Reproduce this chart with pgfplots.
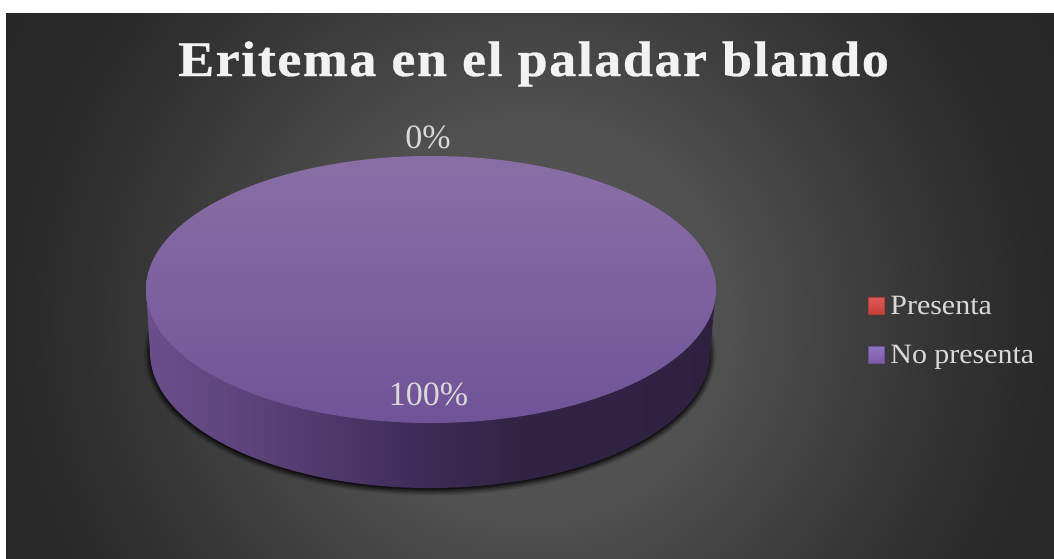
\documentclass[border=0pt]{standalone}
\usepackage{fontspec}
\usepackage{pgfplots}
\usepackage{pgfplotstable}
\pgfplotsset{compat=1.18}
\setmainfont{Liberation Serif}
\newfontfamily\titlefont[LetterSpace=3.1,FakeStretch=1.08,BoldFeatures={FakeBold=0.6}]{Liberation Serif}
\newfontfamily\legendfont[FakeStretch=1.07]{Liberation Serif}

\definecolor{labeltext}{HTML}{D9D9D9}
\definecolor{titletext}{HTML}{F2F2F2}

% Slide background: soft spot of light falling off towards the corners
\definecolor{bgA}{HTML}{565656}
\definecolor{bgB}{HTML}{505050}
\definecolor{bgC}{HTML}{424242}
\definecolor{bgD}{HTML}{353535}
\definecolor{bgE}{HTML}{2A2A2A}
\definecolor{bgF}{HTML}{242424}
\pgfdeclareradialshading{slidebg}{\pgfpointorigin}{
  color(0bp)=(bgA);
  color(7.14bp)=(bgB);
  color(10.7bp)=(bgC);
  color(14.3bp)=(bgD);
  color(17.9bp)=(bgE);
  color(25bp)=(bgF);
  color(50bp)=(bgF)}

% Rim of the disc, lit from the left
\definecolor{rimA}{HTML}{6B4F8D}
\definecolor{rimB}{HTML}{5C4379}
\definecolor{rimC}{HTML}{4B3566}
\definecolor{rimD}{HTML}{3C2A54}
\definecolor{rimE}{HTML}{322344}
\definecolor{rimF}{HTML}{2E2140}
\pgfdeclarehorizontalshading{discrim}{100bp}{
  color(0bp)=(rimA); color(25bp)=(rimA);
  color(34bp)=(rimB); color(43bp)=(rimC); color(50bp)=(rimD);
  color(58bp)=(rimE); color(75bp)=(rimF); color(100bp)=(rimF)}

% Top face of the disc
\definecolor{faceT}{HTML}{8A6FA6}
\definecolor{faceM}{HTML}{7D5DA0}
\definecolor{faceB}{HTML}{705398}

% Legend swatches
\definecolor{redEdge}{HTML}{B03C3A}
\definecolor{redT}{HTML}{E05A55}
\definecolor{redB}{HTML}{C63E3A}
\definecolor{purEdge}{HTML}{685096}
\definecolor{purT}{HTML}{9274C0}
\definecolor{purB}{HTML}{7A5BA8}

% Share of each answer, with the spot where its label stands
\pgfplotstableread{
lx ly share
428 137.5 0
428.5 394.5 100
}\sharestable

\begin{document}
\begin{tikzpicture}
\begin{axis}[
  scale only axis, width=1054pt, height=558pt,
  xmin=0, xmax=1054, ymin=0, ymax=558, y dir=reverse,
  hide axis, clip=false,
  legend style={at={(868/1054,1-294/558)}, anchor=north west, draw=none, fill=none,
    inner sep=0pt, outer sep=0pt, row sep=25pt, column sep=0pt,
    font=\legendfont\fontsize{28}{30}\selectfont, text=labeltext},
  legend cell align=left,
  legend image code/.code={\draw[#1] (0pt,-8.5pt) rectangle (16pt,8.5pt); \path (20pt,0pt);},
]
  % page margin and background
  \fill[white] (axis cs:0,0) rectangle (axis cs:1054,558);
  \begin{scope}
    \clip (axis cs:6,13) rectangle (axis cs:1054,558);
    \path[shading=slidebg] (axis cs:-170,-380) rectangle (axis cs:1230,1020);
  \end{scope}

  % soft shadow under the disc
  \fill[black,opacity=.10] (axis cs:430,353.5) ellipse [x radius=286pt, y radius=142pt];
  \fill[black,opacity=.16] (axis cs:430,353.5) ellipse [x radius=284.5pt, y radius=140.5pt];
  \fill[black,opacity=.22] (axis cs:430,353.5) ellipse [x radius=283pt, y radius=139pt];
  \fill[black,opacity=.30] (axis cs:430,353.5) ellipse [x radius=281.5pt, y radius=137.5pt];
  \fill[black,opacity=.45] (axis cs:430,353.5) ellipse [x radius=280pt, y radius=136pt];
  % rim
  \path[shading=discrim] (axis cs:146,290) -- (axis cs:150,352)
     arc[start angle=180,end angle=360,x radius=280pt,y radius=136pt]
     -- (axis cs:716,290) -- cycle;
  % top face
  \shade[top color=faceT, middle color=faceM, bottom color=faceB]
     (axis cs:431,289.5) ellipse [x radius=285pt, y radius=133.5pt];

  % data labels
  \addplot[draw=none, mark=none, forget plot,
    point meta=explicit,
    nodes near coords={\pgfmathprintnumber[fixed,precision=0,assume math mode=true]{\pgfplotspointmeta}\%},
    every node near coord/.style={anchor=center, inner sep=0pt,
      font=\fontsize{34}{36}\selectfont, text=labeltext}]
    table[x=lx, y=ly, meta=share] {\sharestable};

  \addlegendimage{draw=redEdge, top color=redT, bottom color=redB}
  \addlegendentry{Presenta}
  \addlegendimage{draw=purEdge, top color=purT, bottom color=purB}
  \addlegendentry{No presenta}

  % chart title
  \node[anchor=center, inner sep=0pt, text=titletext,
        font=\titlefont\bfseries\fontsize{50}{52}\selectfont]
     at (axis cs:533.5,64) {Eritema en el paladar blando};
\end{axis}
\pgfresetboundingbox
\path[use as bounding box] (0,0) rectangle (1054pt,558pt);
\end{tikzpicture}
\end{document}
